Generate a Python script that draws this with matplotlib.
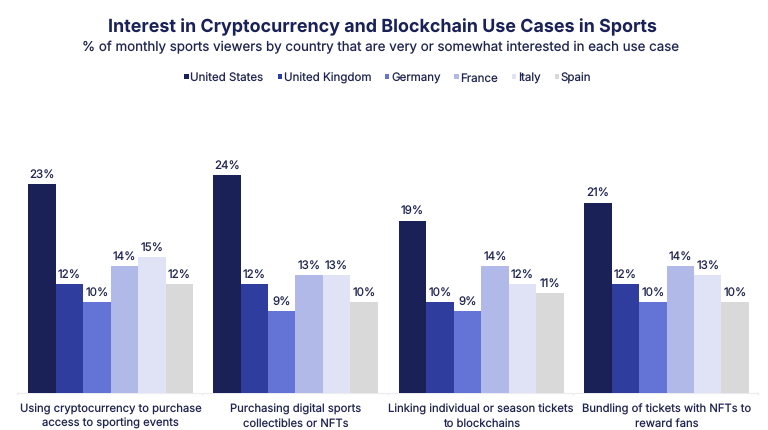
import numpy as np
import matplotlib
matplotlib.use('Agg')
import matplotlib.pyplot as plt

plt.rcParams['font.family'] = ['Inter', 'DejaVu Sans']
plt.rcParams['text.hinting'] = 'no_hinting'
plt.rcParams['text.hinting_factor'] = 1

countries = ['United States', 'United Kingdom', 'Germany', 'France', 'Italy', 'Spain']
colors = ['#1a2157', '#2e3d9e', '#6373d6', '#b1b9e9', '#e0e3f6', '#d9d9d9']
use_cases = ['Using cryptocurrency to purchase\naccess to sporting events',
             'Purchasing digital sports\ncollectibles or NFTs',
             'Linking individual or season tickets\nto blockchains',
             'Bundling of tickets with NFTs to\nreward fans']

us = [23, 24, 19, 21]
uk = [12, 12, 10, 12]
germany = [10, 9, 9, 10]
france = [14, 13, 14, 14]
italy = [15, 13, 12, 13]
spain = [12, 10, 11, 10]
series = [us, uk, germany, france, italy, spain]

fig = plt.figure(figsize=(7.68, 4.31), dpi=100)
# axes in pixel terms: baseline at y 394, 9.07 px per percent
base_y = 394
top_y = 73.0
px_per_unit = 9.07
ax = fig.add_axes([0, 1 - base_y / 431, 1, (base_y - top_y) / 431])

bar_w = 27.45
group_x = np.array([28.3, 213.1, 398.8, 584.2])

# faint axis line with small ticks between groups
ax.plot([17, 758], [0, 0], color='#ececf0', lw=0.8, zorder=0, clip_on=False)
ax.vlines([17, 202, 388, 573, 758], -0.25, 0, color='#ececf0', lw=0.8, zorder=0, clip_on=False)

for i, vals in enumerate(series):
    xs = group_x + i * bar_w + bar_w / 2
    ax.bar(xs, vals, width=bar_w, color=colors[i], label=countries[i])
    for x, v in zip(xs, vals):
        ax.text(x, v + 0.55, f'{v}%', ha='center', va='bottom', fontsize=8.3, color='#1f2550')

ax.set_xlim(0, 768)
ax.set_ylim(0, (base_y - top_y) / px_per_unit)
ax.axis('off')

for x, label in zip(group_x, use_cases):
    ax.text(x + 3 * bar_w, -1.1, label, ha='center', va='top', fontsize=8.1,
            color='#1f2550', linespacing=1.35)

fig.text(0.4975, 0.938, 'Interest in Cryptocurrency and Blockchain Use Cases in Sports',
         ha='center', va='center', fontsize=12.9, fontweight='bold', color='#1a2157')
fig.text(0.496, 0.891, '% of monthly sports viewers by country that are very or somewhat interested in each use case',
         ha='center', va='center', fontsize=9.6, color='#1f2550')

fig.legend(*ax.get_legend_handles_labels(), loc='center', bbox_to_anchor=(0.505, 0.818), ncol=6,
           frameon=False, fontsize=8.3, handlelength=0.38, handleheight=0.38, handletextpad=0.15,
           columnspacing=1.2, labelcolor='#1f2550')

fig.savefig('out.png', dpi=100)
